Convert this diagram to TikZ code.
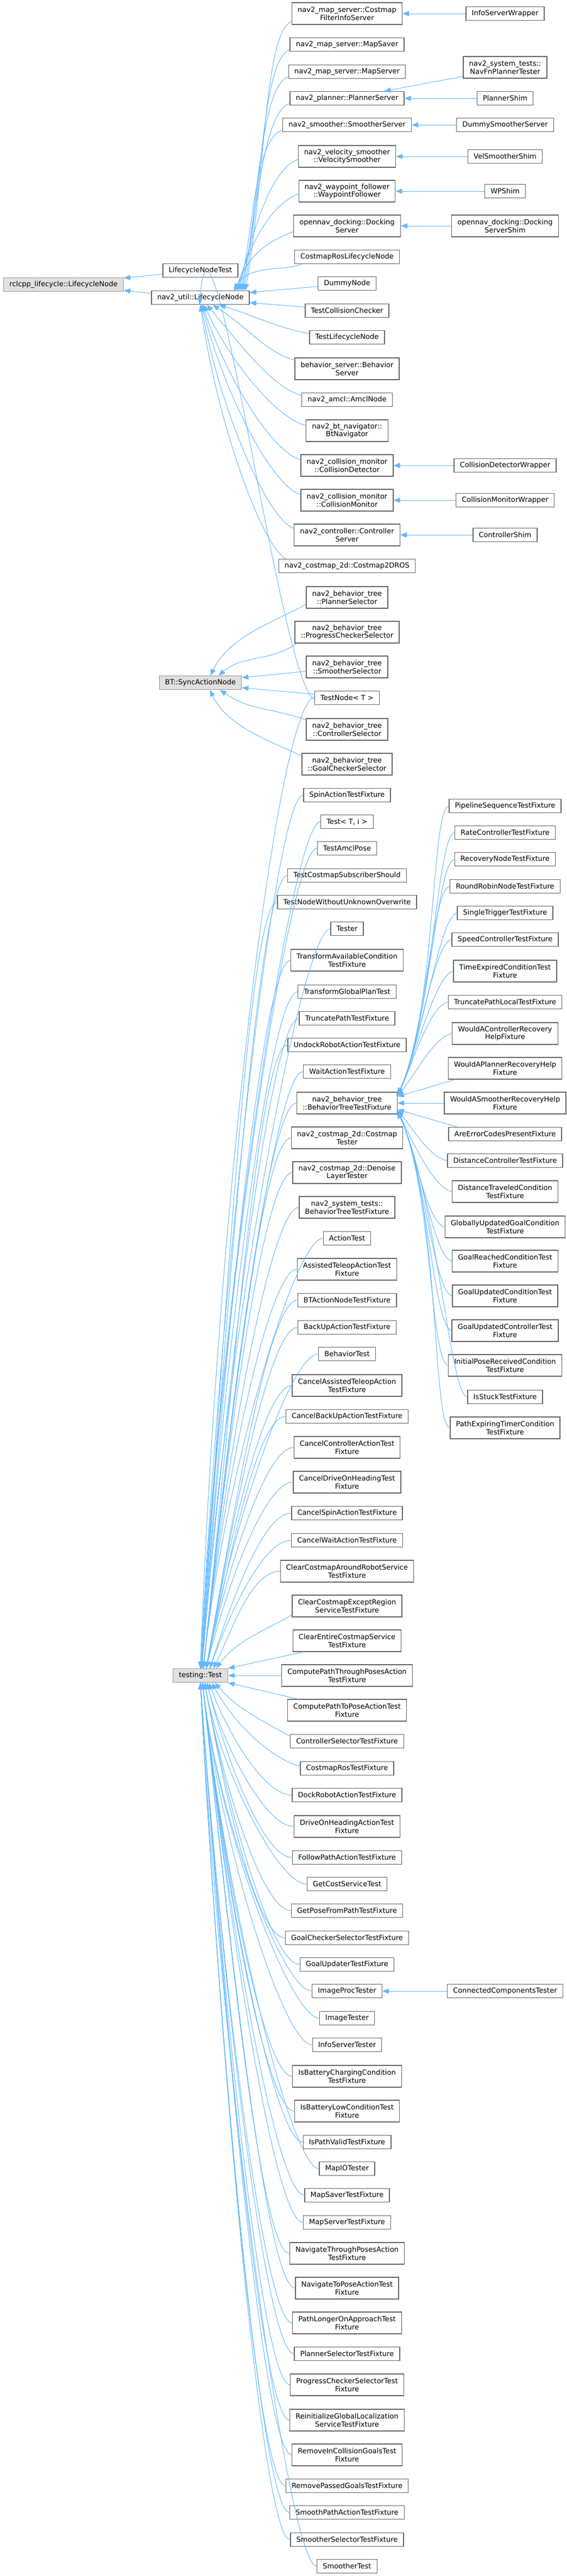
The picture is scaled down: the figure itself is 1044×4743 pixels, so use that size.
\documentclass[tikz,border=0pt]{standalone}
\usepackage{fontspec}
\setmainfont{DejaVu Sans}
\usepackage{tikz}
\usetikzlibrary{arrows.meta}
\definecolor{edgeblue}{HTML}{63B8FF}
\definecolor{boxline}{HTML}{666666}
\definecolor{rootfill}{HTML}{E0E0E0}
\definecolor{rootline}{HTML}{999999}

\begin{document}
\begin{tikzpicture}[x=0.75pt, y=0.75pt]
    % Define block styles
    \tikzstyle{cls} = [rectangle, draw=boxline, fill=white, line width=1pt, inner xsep=8pt, inner ysep=2pt, minimum height=18.75pt, align=center, font=\fontsize{9.75}{11}\selectfont]
    \tikzstyle{cls2} = [cls, minimum height=30pt]
    \tikzstyle{root} = [cls, draw=rootline, fill=rootfill]
    \tikzstyle{arrow} = [->, >={Stealth[length=9pt, width=7pt, inset=0pt]}, draw=edgeblue, line width=0.75pt]
    \tikzstyle{intop} = [out=180, in=84, out distance=40pt, in looseness=1.1]
    \tikzstyle{inbottom} = [out=180, in=-84, out distance=40pt, in looseness=1.1]
    \tikzstyle{inupper} = [out=190, in=65, out distance=25pt, in looseness=0.8]
    \tikzstyle{inlower} = [out=170, in=-65, out distance=25pt, in looseness=0.8]

    \useasboundingbox (0,0) rectangle (1044,-4743);

    % Draw nodes: base classes
    \node (rcl) [root] at (117,-524) {rclcpp\_lifecycle::LifecycleNode};
    \node (lnt) [cls] at (369,-498) {LifecycleNodeTest};
    \node (nu) [cls] at (369,-548) {nav2\_util::LifecycleNode};
    \node (bt) [root] at (369,-1257) {BT::SyncActionNode};
    \node (tt) [root] at (369,-3085) {testing::Test};

    % Draw nodes: lifecycle nodes
    \node (cfis) [cls2] at (639,-25) {nav2\_map\_server::Costmap\\FilterInfoServer};
    \node (msaver) [cls] at (639,-82) {nav2\_map\_server::MapSaver};
    \node (mserver) [cls] at (639,-132) {nav2\_map\_server::MapServer};
    \node (pserver) [cls] at (639,-181) {nav2\_planner::PlannerServer};
    \node (sserver) [cls] at (639,-230) {nav2\_smoother::SmootherServer};
    \node (vsmooth) [cls2] at (639,-288) {nav2\_velocity\_smoother\\::VelocitySmoother};
    \node (wpf) [cls2] at (639,-352) {nav2\_waypoint\_follower\\::WaypointFollower};
    \node (dock) [cls2] at (639,-416) {opennav\_docking::Docking\\Server};
    \node (crln) [cls] at (639,-473) {CostmapRosLifecycleNode};
    \node (dummy) [cls] at (639,-522) {DummyNode};
    \node (tcc) [cls] at (639,-572) {TestCollisionChecker};
    \node (tln) [cls] at (639,-621) {TestLifecycleNode};
    \node (bserver) [cls2] at (639,-679) {behavior\_server::Behavior\\Server};
    \node (amcl) [cls] at (639,-736) {nav2\_amcl::AmclNode};
    \node (btnav) [cls2] at (639,-793) {nav2\_bt\_navigator::\\BtNavigator};
    \node (cdet) [cls2] at (639,-857) {nav2\_collision\_monitor\\::CollisionDetector};
    \node (cmon) [cls2] at (639,-921) {nav2\_collision\_monitor\\::CollisionMonitor};
    \node (cserver) [cls2] at (639,-985) {nav2\_controller::Controller\\Server};
    \node (c2dros) [cls] at (639,-1042) {nav2\_costmap\_2d::Costmap2DROS};

    % Draw nodes: behavior tree nodes
    \node (plsel) [cls2] at (639,-1100) {nav2\_behavior\_tree\\::PlannerSelector};
    \node (pcsel) [cls2] at (639,-1164) {nav2\_behavior\_tree\\::ProgressCheckerSelector};
    \node (smsel) [cls2] at (639,-1228) {nav2\_behavior\_tree\\::SmootherSelector};
    \node (tnode) [cls] at (639,-1285) {TestNode< T >};
    \node (ctsel) [cls2] at (639,-1343) {nav2\_behavior\_tree\\::ControllerSelector};
    \node (gcsel) [cls2] at (639,-1407) {nav2\_behavior\_tree\\::GoalCheckerSelector};

    % Draw nodes: tests
    \node (spin) [cls] at (639,-1464) {SpinActionTestFixture};
    \node (testti) [cls] at (639,-1513) {Test< T, i >};
    \node (tamcl) [cls] at (639,-1562) {TestAmclPose};
    \node (tcss) [cls] at (639,-1612) {TestCostmapSubscriberShould};
    \node (tnwuo) [cls] at (639,-1661) {TestNodeWithoutUnknownOverwrite};
    \node (tester) [cls] at (639,-1710) {Tester};
    \node (tacf) [cls2] at (639,-1768) {TransformAvailableCondition\\TestFixture};
    \node (tgpt) [cls] at (639,-1826) {TransformGlobalPlanTest};
    \node (tptf) [cls] at (639,-1875) {TruncatePathTestFixture};
    \node (undock) [cls] at (639,-1924) {UndockRobotActionTestFixture};
    \node (wait) [cls] at (639,-1973) {WaitActionTestFixture};
    \node (bttf) [cls2] at (639,-2031) {nav2\_behavior\_tree\\::BehaviorTreeTestFixture};
    \node (ctester) [cls2] at (639,-2095) {nav2\_costmap\_2d::Costmap\\Tester};
    \node (dltester) [cls2] at (639,-2159) {nav2\_costmap\_2d::Denoise\\LayerTester};
    \node (sbttf) [cls2] at (639,-2223) {nav2\_system\_tests::\\BehaviorTreeTestFixture};
    \node (atest) [cls] at (639,-2280) {ActionTest};
    \node (atele) [cls2] at (639,-2337) {AssistedTeleopActionTest\\Fixture};
    \node (btan) [cls] at (639,-2394) {BTActionNodeTestFixture};
    \node (backup) [cls] at (639,-2444) {BackUpActionTestFixture};
    \node (btest) [cls] at (639,-2493) {BehaviorTest};
    \node (cate) [cls2] at (639,-2551) {CancelAssistedTeleopAction\\TestFixture};
    \node (cbu) [cls] at (639,-2608) {CancelBackUpActionTestFixture};
    \node (cca) [cls2] at (639,-2665) {CancelControllerActionTest\\Fixture};
    \node (cdoh) [cls2] at (639,-2729) {CancelDriveOnHeadingTest\\Fixture};
    \node (cspin) [cls] at (639,-2786) {CancelSpinActionTestFixture};
    \node (cwait) [cls] at (639,-2836) {CancelWaitActionTestFixture};
    \node (ccar) [cls2] at (639,-2893) {ClearCostmapAroundRobotService\\TestFixture};
    \node (ccer) [cls2] at (639,-2957) {ClearCostmapExceptRegion\\ServiceTestFixture};
    \node (cecs) [cls2] at (639,-3021) {ClearEntireCostmapService\\TestFixture};
    \node (cptp) [cls2] at (639,-3085) {ComputePathThroughPosesAction\\TestFixture};
    \node (cptpose) [cls2] at (639,-3149) {ComputePathToPoseActionTest\\Fixture};
    \node (cstf) [cls] at (639,-3206) {ControllerSelectorTestFixture};
    \node (crtf) [cls] at (639,-3256) {CostmapRosTestFixture};
    \node (drtf) [cls] at (639,-3305) {DockRobotActionTestFixture};
    \node (doh) [cls2] at (639,-3363) {DriveOnHeadingActionTest\\Fixture};
    \node (fpath) [cls] at (639,-3420) {FollowPathActionTestFixture};
    \node (gcst) [cls] at (639,-3469) {GetCostServiceTest};
    \node (gpfp) [cls] at (639,-3518) {GetPoseFromPathTestFixture};
    \node (gcstf) [cls] at (639,-3568) {GoalCheckerSelectorTestFixture};
    \node (gutf) [cls] at (639,-3617) {GoalUpdaterTestFixture};
    \node (iproc) [cls] at (639,-3666) {ImageProcTester};
    \node (itest) [cls] at (639,-3716) {ImageTester};
    \node (istest) [cls] at (639,-3765) {InfoServerTester};
    \node (ibc) [cls2] at (639,-3823) {IsBatteryChargingCondition\\TestFixture};
    \node (ibl) [cls2] at (639,-3887) {IsBatteryLowConditionTest\\Fixture};
    \node (ipv) [cls] at (639,-3944) {IsPathValidTestFixture};
    \node (mapio) [cls] at (639,-3993) {MapIOTester};
    \node (mstf) [cls] at (639,-4042) {MapSaverTestFixture};
    \node (msrvtf) [cls] at (639,-4092) {MapServerTestFixture};
    \node (ntp) [cls2] at (639,-4149) {NavigateThroughPosesAction\\TestFixture};
    \node (ntpose) [cls2] at (639,-4213) {NavigateToPoseActionTest\\Fixture};
    \node (ploa) [cls2] at (639,-4277) {PathLongerOnApproachTest\\Fixture};
    \node (pstf) [cls] at (639,-4334) {PlannerSelectorTestFixture};
    \node (pcstf) [cls2] at (639,-4391) {ProgressCheckerSelectorTest\\Fixture};
    \node (rgl) [cls2] at (639,-4456) {ReinitializeGlobalLocalization\\ServiceTestFixture};
    \node (ricg) [cls2] at (639,-4520) {RemoveInCollisionGoalsTest\\Fixture};
    \node (rpg) [cls] at (639,-4577) {RemovePassedGoalsTestFixture};
    \node (spa) [cls] at (639,-4626) {SmoothPathActionTestFixture};
    \node (sstf) [cls] at (639,-4676) {SmootherSelectorTestFixture};
    \node (stest) [cls] at (639,-4725) {SmootherTest};

    % Draw nodes: right column
    \node (isw) [cls] at (930,-25) {InfoServerWrapper};
    \node (navfn) [cls2] at (930,-124) {nav2\_system\_tests::\\NavFnPlannerTester};
    \node (pshim) [cls] at (930,-181) {PlannerShim};
    \node (dss) [cls] at (930,-230) {DummySmootherServer};
    \node (vss) [cls] at (930,-288) {VelSmootherShim};
    \node (wps) [cls] at (930,-352) {WPShim};
    \node (dshim) [cls2] at (930,-416) {opennav\_docking::Docking\\ServerShim};
    \node (cdw) [cls] at (930,-857) {CollisionDetectorWrapper};
    \node (cmw) [cls] at (930,-921) {CollisionMonitorWrapper};
    \node (cshim) [cls] at (930,-985) {ControllerShim};
    \node (pstest) [cls] at (930,-1484) {PipelineSequenceTestFixture};
    \node (rctf) [cls] at (930,-1533) {RateControllerTestFixture};
    \node (rntf) [cls] at (930,-1582) {RecoveryNodeTestFixture};
    \node (rrtf) [cls] at (930,-1632) {RoundRobinNodeTestFixture};
    \node (sttf) [cls] at (930,-1681) {SingleTriggerTestFixture};
    \node (sctf) [cls] at (930,-1730) {SpeedControllerTestFixture};
    \node (tectf) [cls2] at (930,-1788) {TimeExpiredConditionTest\\Fixture};
    \node (tpltf) [cls] at (930,-1845) {TruncatePathLocalTestFixture};
    \node (wacr) [cls2] at (930,-1903) {WouldAControllerRecovery\\HelpFixture};
    \node (wapr) [cls2] at (930,-1967) {WouldAPlannerRecoveryHelp\\Fixture};
    \node (wasr) [cls2] at (930,-2031) {WouldASmootherRecoveryHelp\\Fixture};
    \node (aecp) [cls] at (930,-2088) {AreErrorCodesPresentFixture};
    \node (dctf) [cls] at (930,-2137) {DistanceControllerTestFixture};
    \node (dtctf) [cls2] at (930,-2194) {DistanceTraveledCondition\\TestFixture};
    \node (gugctf) [cls2] at (930,-2259) {GloballyUpdatedGoalCondition\\TestFixture};
    \node (grctf) [cls2] at (930,-2322) {GoalReachedConditionTest\\Fixture};
    \node (guctf) [cls2] at (930,-2386) {GoalUpdatedConditionTest\\Fixture};
    \node (guctrl) [cls2] at (930,-2450) {GoalUpdatedControllerTest\\Fixture};
    \node (iprctf) [cls2] at (930,-2514) {InitialPoseReceivedCondition\\TestFixture};
    \node (istf) [cls] at (930,-2572) {IsStuckTestFixture};
    \node (petctf) [cls2] at (930,-2629) {PathExpiringTimerCondition\\TestFixture};
    \node (cct) [cls] at (930,-3666) {ConnectedComponentsTester};

    % Draw edges: rclcpp_lifecycle
    \draw [arrow] ([yshift=-5pt]lnt.west) -- ([yshift=9pt]rcl.east);
    \draw [arrow] ([yshift=6pt]nu.west) -- ([yshift=-8pt]rcl.east);

    % Draw edges: nav2_util lifecycle node
    \draw [arrow] ([yshift=-11pt]cfis.west) to[intop, out=200, in=80] ([xshift=62pt]nu.north);
    \draw [arrow] ([yshift=-7pt]msaver.west) to[intop, out=200, in=80] ([xshift=60pt]nu.north);
    \draw [arrow] ([yshift=-7pt]mserver.west) to[intop, out=200, in=80] ([xshift=58pt]nu.north);
    \draw [arrow] ([yshift=-7pt]pserver.west) to[intop, out=200, in=78] ([xshift=56pt]nu.north);
    \draw [arrow] ([yshift=-7pt]sserver.west) to[intop, out=200, in=78] ([xshift=54pt]nu.north);
    \draw [arrow] ([yshift=-4pt]vsmooth.west) to[intop, out=200, in=76] ([xshift=52pt]nu.north);
    \draw [arrow] ([yshift=-4pt]wpf.west) to[intop, out=200, in=74] ([xshift=50pt]nu.north);
    \draw [arrow] ([yshift=-8pt]dock.west) to[intop, out=200, in=70] ([xshift=48pt]nu.north);
    \draw [arrow] ([xshift=10pt]crln.south west) to[intop, out=210, in=60, out distance=20pt] ([xshift=46pt]nu.north);
    \draw [arrow] ([yshift=-4pt]dummy.west) -- ([yshift=7pt]nu.east);
    \draw [arrow] ([yshift=5pt]tcc.west) -- ([yshift=-7pt]nu.east);
    \draw [arrow] ([yshift=5pt]tln.west) to[inbottom, out=170, in=-18] ([xshift=26pt]nu.south);
    \draw [arrow] ([yshift=12pt]bserver.west) to[inbottom, out=165, in=-33] ([xshift=17pt]nu.south);
    \draw [arrow] ([yshift=6pt]amcl.west) to[inbottom, out=165, in=-50] ([xshift=9pt]nu.south);
    \draw [arrow] ([yshift=7pt]btnav.west) to[inbottom, out=165, in=-65] ([xshift=5pt]nu.south);
    \draw [arrow] ([yshift=8pt]cdet.west) to[inbottom, out=165, in=-72] ([xshift=3pt]nu.south);
    \draw [arrow] ([yshift=8pt]cmon.west) to[inbottom, out=165, in=-76] ([xshift=2pt]nu.south);
    \draw [arrow] ([yshift=9pt]cserver.west) to[inbottom, out=160, in=-80] ([xshift=1pt]nu.south);
    \draw [arrow] ([xshift=10pt]c2dros.north west) to[inbottom, out=150, in=-82] (nu.south);
    \draw [arrow] ([yshift=-2pt]tnode.west) .. controls +(-62,23) and +(21,294) .. ([xshift=-1pt]nu.south);

    % Draw edges: lifecycle children
    \draw [arrow] (isw) -- (cfis);
    \draw [arrow] ([yshift=3pt]navfn.south west) -- ([xshift=-28pt]pserver.north east);
    \draw [arrow] (pshim) -- (pserver);
    \draw [arrow] (dss) -- (sserver);
    \draw [arrow] (vss) -- (vsmooth);
    \draw [arrow] (wps) -- (wpf);
    \draw [arrow] (dshim) -- (dock);
    \draw [arrow] (cdw) -- (cdet);
    \draw [arrow] (cmw) -- (cmon);
    \draw [arrow] (cshim) -- (cserver);

    % Draw edges: BT::SyncActionNode
    \draw [arrow] ([yshift=-9pt]plsel.west) to[out=215, in=65, out distance=30pt] ([xshift=14pt]bt.north);
    \draw [arrow] ([xshift=3pt]pcsel.south west) to[out=215, in=40] ([xshift=25pt]bt.north);
    \draw [arrow] ([yshift=-6pt]smsel.west) -- ([yshift=7pt]bt.east);
    \draw [arrow] ([yshift=5pt]tnode.west) -- ([yshift=-7pt]bt.east);
    \draw [arrow] ([yshift=13pt]ctsel.west) to[out=160, in=-35] ([xshift=27pt]bt.south);
    \draw [arrow] ([yshift=11pt]gcsel.west) to[out=150, in=-65, out distance=30pt] ([xshift=13pt]bt.south);

    % Draw edges: testing::Test, from above
    \draw [arrow] ([yshift=2pt]tnode.west) .. controls +(-75,-27) and +(27,770) .. (tt.north);
    \draw [arrow] (spin.west) .. controls +(-53,0) and +(36,691) .. (tt.north);
    \draw [arrow] (testti.west) .. controls +(-53,0) and +(35,670) .. (tt.north);
    \draw [arrow] (tamcl.west) .. controls +(-53,0) and +(34,649) .. ([xshift=1pt]tt.north);
    \draw [arrow] (tcss.west) .. controls +(-53,0) and +(44,627) .. ([xshift=1pt]tt.north);
    \draw [arrow] (tnwuo.west) .. controls +(-53,0) and +(42,606) .. ([xshift=1pt]tt.north);
    \draw [arrow] (tester.west) .. controls +(-53,0) and +(41,585) .. ([xshift=2pt]tt.north);
    \draw [arrow] (tacf.west) .. controls +(-53,0) and +(39,560) .. ([xshift=2pt]tt.north);
    \draw [arrow] (tgpt.west) .. controls +(-53,0) and +(37,535) .. ([xshift=2pt]tt.north);
    \draw [arrow] (tptf.west) .. controls +(-53,0) and +(45,513) .. ([xshift=2pt]tt.north);
    \draw [arrow] (undock.west) .. controls +(-53,0) and +(52,491) .. ([xshift=4pt]tt.north);
    \draw [arrow] (wait.west) .. controls +(-53,0) and +(49,470) .. ([xshift=4pt]tt.north);
    \draw [arrow] (bttf.west) .. controls +(-53,0) and +(47,446) .. ([xshift=4pt]tt.north);
    \draw [arrow] (ctester.west) .. controls +(-53,0) and +(44,419) .. ([xshift=4pt]tt.north);
    \draw [arrow] (dltester.west) .. controls +(-53,0) and +(41,391) .. ([xshift=4pt]tt.north);
    \draw [arrow] (sbttf.west) .. controls +(-53,0) and +(38,364) .. ([xshift=4pt]tt.north);
    \draw [arrow] (atest.west) .. controls +(-53,0) and +(36,339) .. ([xshift=4pt]tt.north);
    \draw [arrow] (atele.west) .. controls +(-53,0) and +(33,314) .. ([xshift=4pt]tt.north);
    \draw [arrow] (btan.west) .. controls +(-53,0) and +(51,288) .. ([xshift=8pt]tt.north);
    \draw [arrow] (backup.west) .. controls +(-53,0) and +(47,266) .. ([xshift=8pt]tt.north);
    \draw [arrow] (btest.west) .. controls +(-53,0) and +(43,245) .. ([xshift=8pt]tt.north);
    \draw [arrow] (cate.west) .. controls +(-53,0) and +(39,221) .. ([xshift=8pt]tt.north);
    \draw [arrow] (cbu.west) .. controls +(-53,0) and +(42,196) .. ([xshift=8pt]tt.north);
    \draw [arrow] (cca.west) .. controls +(-53,0) and +(36,171) .. ([xshift=8pt]tt.north);
    \draw [arrow] (cdoh.west) .. controls +(-53,0) and +(36,144) .. ([xshift=8pt]tt.north);
    \draw [arrow] (cspin.west) .. controls +(-53,0) and +(38,117) .. ([xshift=13pt]tt.north);
    \draw [arrow] (cwait.west) .. controls +(-53,0) and +(35,96) .. ([xshift=13pt]tt.north);
    \draw [arrow] (ccar.west) .. controls +(-53,0) and +(35,72) .. ([xshift=18pt]tt.north);
    \draw [arrow] ([yshift=-12pt]ccer.west) to[out=215, in=55, out distance=25pt] ([xshift=22pt]tt.north);
    \draw [arrow] ([xshift=15pt]cecs.south west) -- ([yshift=10pt]tt.east);
    \draw [arrow] (cptp) -- (tt);
    \draw [arrow] ([xshift=15pt]cptpose.north west) -- ([yshift=-10pt]tt.east);

    % Draw edges: testing::Test, from below
    \draw [arrow] ([yshift=7pt]cstf.west) to[out=150, in=-50, out distance=30pt] ([xshift=20pt]tt.south);
    \draw [arrow] ([yshift=3pt]crtf.west) to[out=165, in=-62, out distance=40pt] ([xshift=16pt]tt.south);
    \draw [arrow] (drtf.west) .. controls +(-53,0) and +(30,-84) .. ([xshift=12pt]tt.south);
    \draw [arrow] (doh.west) .. controls +(-53,0) and +(28,-111) .. ([xshift=9pt]tt.south);
    \draw [arrow] (fpath.west) .. controls +(-53,0) and +(33,-134) .. ([xshift=9pt]tt.south);
    \draw [arrow] (gcst.west) .. controls +(-53,0) and +(28,-158) .. ([xshift=6pt]tt.south);
    \draw [arrow] (gpfp.west) .. controls +(-53,0) and +(31,-178) .. ([xshift=6pt]tt.south);
    \draw [arrow] (gcstf.west) .. controls +(-53,0) and +(35,-199) .. ([xshift=6pt]tt.south);
    \draw [arrow] (gutf.west) .. controls +(-53,0) and +(39,-220) .. ([xshift=6pt]tt.south);
    \draw [arrow] (iproc.west) .. controls +(-53,0) and +(26,-243) .. ([xshift=3pt]tt.south);
    \draw [arrow] (itest.west) .. controls +(-53,0) and +(28,-265) .. ([xshift=3pt]tt.south);
    \draw [arrow] (istest.west) .. controls +(-53,0) and +(30,-285) .. ([xshift=3pt]tt.south);
    \draw [arrow] (ibc.west) .. controls +(-53,0) and +(33,-310) .. ([xshift=3pt]tt.south);
    \draw [arrow] (ibl.west) .. controls +(-53,0) and +(35,-337) .. ([xshift=3pt]tt.south);
    \draw [arrow] (ipv.west) .. controls +(-53,0) and +(38,-362) .. ([xshift=3pt]tt.south);
    \draw [arrow] (mapio.west) .. controls +(-53,0) and +(40,-383) .. ([xshift=3pt]tt.south);
    \draw [arrow] (mstf.west) .. controls +(-53,0) and +(42,-404) .. ([xshift=3pt]tt.south);
    \draw [arrow] (msrvtf.west) .. controls +(-53,0) and +(45,-425) .. ([xshift=3pt]tt.south);
    \draw [arrow] (ntp.west) .. controls +(-53,0) and +(47,-450) .. ([xshift=3pt]tt.south);
    \draw [arrow] (ntpose.west) .. controls +(-53,0) and +(50,-476) .. ([xshift=3pt]tt.south);
    \draw [arrow] (ploa.west) .. controls +(-53,0) and +(35,-506) .. (tt.south);
    \draw [arrow] (pstf.west) .. controls +(-53,0) and +(37,-530) .. (tt.south);
    \draw [arrow] (pcstf.west) .. controls +(-53,0) and +(39,-555) .. (tt.south);
    \draw [arrow] (rgl.west) .. controls +(-53,0) and +(41,-583) .. (tt.south);
    \draw [arrow] (ricg.west) .. controls +(-53,0) and +(43,-610) .. (tt.south);
    \draw [arrow] (rpg.west) .. controls +(-53,0) and +(33,-635) .. (tt.south);
    \draw [arrow] (spa.west) .. controls +(-53,0) and +(34,-656) .. (tt.south);
    \draw [arrow] (sstf.west) .. controls +(-53,0) and +(36,-678) .. (tt.south);
    \draw [arrow] (stest.west) .. controls +(-53,0) and +(37,-699) .. (tt.south);
    \draw [arrow] (cct) -- (iproc);

    % Draw edges: nav2_behavior_tree::BehaviorTreeTestFixture
    \draw [arrow] (pstest.west) to[inupper] ([yshift=12pt]bttf.east);
    \draw [arrow] (rctf.west) to[inupper] ([yshift=12pt]bttf.east);
    \draw [arrow] (rntf.west) to[inupper] ([yshift=12pt]bttf.east);
    \draw [arrow] (rrtf.west) to[inupper] ([yshift=12pt]bttf.east);
    \draw [arrow] (sttf.west) to[inupper] ([yshift=11pt]bttf.east);
    \draw [arrow] (sctf.west) to[inupper] ([yshift=11pt]bttf.east);
    \draw [arrow] (tectf.west) to[inupper] ([yshift=11pt]bttf.east);
    \draw [arrow] (tpltf.west) to[inupper] ([yshift=10pt]bttf.east);
    \draw [arrow] (wacr.west) to[inupper, in=50] ([yshift=10pt]bttf.east);
    \draw [arrow] ([xshift=10pt]wapr.south west) -- ([yshift=9pt]bttf.east);
    \draw [arrow] (wasr) -- (bttf);
    \draw [arrow] ([xshift=12pt]aecp.north west) -- ([yshift=-9pt]bttf.east);
    \draw [arrow] (dctf.west) to[inlower, in=-50] ([yshift=-10pt]bttf.east);
    \draw [arrow] (dtctf.west) to[inlower] ([yshift=-10pt]bttf.east);
    \draw [arrow] (gugctf.west) to[inlower] ([yshift=-11pt]bttf.east);
    \draw [arrow] (grctf.west) to[inlower] ([yshift=-11pt]bttf.east);
    \draw [arrow] (guctf.west) to[inlower] ([yshift=-11pt]bttf.east);
    \draw [arrow] (guctrl.west) to[inlower] ([yshift=-12pt]bttf.east);
    \draw [arrow] (iprctf.west) to[inlower] ([yshift=-12pt]bttf.east);
    \draw [arrow] (istf.west) to[inlower] ([yshift=-12pt]bttf.east);
    \draw [arrow] (petctf.west) to[inlower] ([yshift=-12pt]bttf.east);

\end{tikzpicture}
\end{document}
